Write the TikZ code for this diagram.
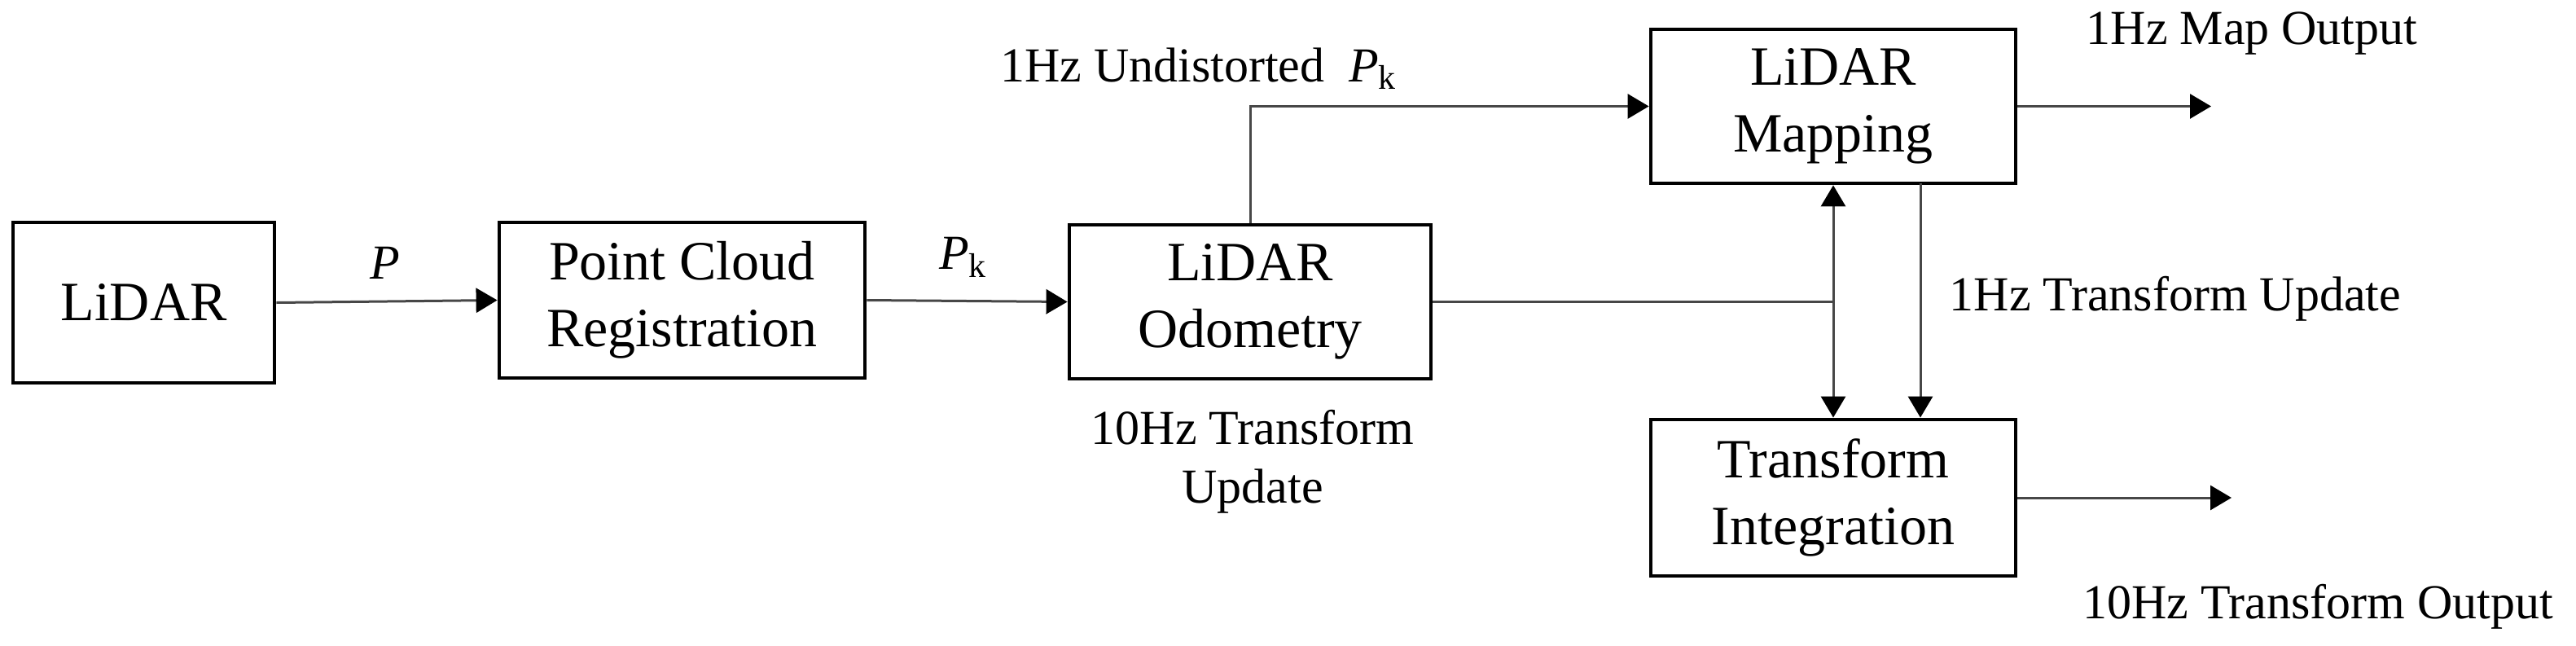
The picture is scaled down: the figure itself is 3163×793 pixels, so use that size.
\documentclass[tikz,border=0pt]{standalone}
\usepackage{fontspec}
\setmainfont{Liberation Serif}
\usetikzlibrary{arrows.meta}
\tikzset{
  blk/.style={draw=black, line width=1.2pt, inner sep=0pt, align=center,
    font=\fontsize{17}{20.5}\selectfont},
  lbl/.style={inner sep=0pt, align=center, font=\fontsize{15}{18}\selectfont},
  conn/.style={draw=black!72, line width=0.75pt},
  arr/.style={conn, -{Triangle[length=6.5pt,width=7.5pt,color=black]}}
}
\newcommand{\Pk}{\textit{P}\textsubscript{k}}
\begin{document}
\begin{tikzpicture}[x=0.25pt,y=-0.25pt]
\useasboundingbox (0,0) rectangle (3163,793);
% boxes
\node[blk, minimum width=80.25pt, minimum height=49.25pt] (lidar) at (176.5,371.5) {LiDAR};
\node[blk, minimum width=112.25pt, minimum height=47.75pt] (pcr) at (837.5,368.5) {Point Cloud\\Registration};
\node[blk, minimum width=111pt, minimum height=47.25pt] (odo) at (1535,370.5) {LiDAR\\Odometry};
\node[blk, minimum width=112pt, minimum height=47.25pt] (map) at (2251,130.5) {LiDAR\\Mapping};
\node[blk, minimum width=112pt, minimum height=48pt] (ti) at (2251,611) {Transform\\Integration};
% coordinates
\coordinate (j) at (map.south |- odo.east);
\coordinate (m2) at (2358,225);
\coordinate (mapout) at (2715,130.5);
\coordinate (tiout) at (2740,611);
% connectors
\draw[arr] (lidar.east) -- (pcr.west);
\draw[arr] (pcr.east) -- (odo.west);
\draw[arr] (odo.north) |- (map.west);
\draw[conn] (odo.east) -- (j);
\draw[arr] (j) -- (map.south);
\draw[arr] (j) -- (ti.north);
\draw[arr] (m2) -- (m2 |- ti.north);
\draw[arr] (map.east) -- (mapout);
\draw[arr] (ti.east) -- (tiout);
% labels
\node[lbl] (lP) at (473,323) {\textit{P}};
\node[lbl] (lPk) at (1183,316) {\Pk};
\node[lbl] (lund) at (1472,84) {1Hz Undistorted\ \ \Pk};
\node[lbl] (lmo) at (2765,41) {1Hz Map Output};
\node[lbl] (ltu1) at (2671,367) {1Hz Transform Update};
\node[lbl] (lto) at (2846,745) {10Hz Transform Output};
\node[lbl] (ltu10) at (1538,567) {10Hz Transform\\Update};
\end{tikzpicture}
\end{document}
